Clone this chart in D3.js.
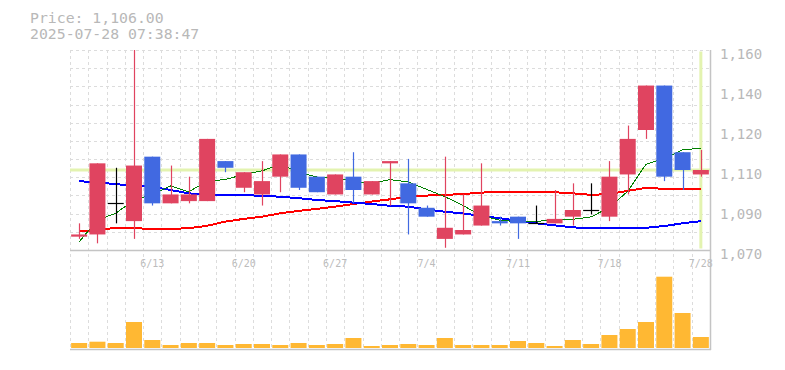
<!DOCTYPE html>
<html><head><meta charset="utf-8">
<script src="https://cdn.jsdelivr.net/npm/d3@7"></script>
<style>body{margin:0;background:#fff;}svg{display:block;}</style>
</head><body>
<svg id="chart" width="785" height="370"></svg>
<script>
// ---- data ----
const dates = ["6/9","6/10","6/11","6/12","6/13","6/16","6/17","6/18","6/19","6/20",
  "6/23","6/24","6/25","6/26","6/27","6/30","7/1","7/2","7/3","7/4",
  "7/7","7/8","7/9","7/10","7/11","7/14","7/15","7/16","7/17","7/18",
  "7/22","7/23","7/24","7/25","7/28"];
const open  = [1076,1077,1091,1083,1112,1091,1092,1092,1110,1098,1095,1103,1113,1103,1095,1103,1095,1109,1100,1089,1075,1077,1081,1083,1085,1082,1082,1085,1088,1085,1104,1124,1144,1114,1104];
const high  = [1082,1109,1107,1160,1112,1108,1103,1120,1110,1105,1110,1113,1113,1103,1104,1114,1101,1110,1111,1090,1112,1095,1109,1085,1085,1090,1097,1100,1100,1110,1126,1144,1144,1114,1115];
const low   = [1075,1073,1082,1075,1090,1091,1091,1092,1105,1096,1090,1096,1097,1096,1095,1091,1095,1090,1077,1085,1071,1077,1081,1081,1075,1082,1082,1081,1086,1083,1095,1120,1101,1097,1103];
const close = [1077,1109,1091,1108,1091,1095,1095,1120,1107,1105,1101,1113,1098,1096,1104,1097,1101,1110,1091,1085,1080,1079,1090,1082,1082,1082,1084,1088,1088,1103,1120,1144,1103,1106,1106];
const volume = [5000,6300,5000,26000,8000,3000,5000,5000,3000,4000,4000,3000,5000,3000,4000,10000,2000,3000,4000,3000,10000,3000,3000,3000,7000,5000,2000,8000,4000,13000,19000,26000,71300,35000,11000];
const ma5  = [1073.7,1083.5,1086.5,1092.5,1095.0,1098.8,1096.2,1101.0,1101.7,1104.0,1105.6,1108.5,1105.0,1102.8,1102.6,1101.0,1100.0,1101.7,1100.6,1097.3,1094.0,1090.0,1085.4,1083.4,1082.7,1082.8,1083.7,1083.8,1084.9,1089.2,1096.4,1108.6,1111.2,1115.1,1115.8];
const ma25 = [1101.0,1100.3,1099.7,1098.8,1098.5,1097.0,1095.5,1094.8,1094.8,1094.8,1094.3,1094.0,1093.3,1092.5,1092.0,1091.3,1090.7,1089.9,1089.5,1088.3,1087.2,1086.5,1085.3,1084.3,1083.2,1082.0,1081.1,1080.2,1079.8,1079.8,1079.8,1080.0,1080.8,1082.0,1083.0];
const ma75 = [1078.3,1079.0,1080.0,1079.8,1079.5,1079.5,1079.8,1080.9,1082.8,1084.0,1085.0,1086.5,1087.6,1088.5,1089.5,1090.7,1091.8,1092.8,1094.0,1094.5,1094.8,1095.2,1095.8,1096.3,1096.3,1096.3,1096.0,1095.5,1094.8,1095.2,1096.6,1098.0,1097.5,1097.3,1097.3];
const priceTicks = [1070,1088,1106,1124,1142,1160];
const priceTickLabels = ["1,070","1,090","1,110","1,120","1,140","1,160"];
const dateTickLabels = ["6/13","6/20","6/27","7/4","7/11","7/18","7/28"];
const currentPrice = 1106;
const titleLines = ["Price: 1,106.00","2025-07-28 07:38:47"];

// ---- layout ----
const L = 70, R = 710, PT = 50, PB = 250, VB = 348, VT = 276.7;
const UP = "#e04460", DOWN = "#4169e1", DOJI = "#000", VOL = "#ffb833";
const GRID = "#dcdcdc", TXT = "#b8b8b8";
const FONT = "'DejaVu Sans Mono', 'Liberation Mono', monospace";

const svg = d3.select("#chart");
const x = d3.scaleBand().domain(dates).range([L, R]).paddingInner(0.125).paddingOuter(0.0625);
const cx = d => x(d) + x.bandwidth() / 2;
const y = d3.scaleLinear().domain([1070, 1160]).range([PB, PT]);
const yV = d3.scaleLinear().domain([0, d3.max(volume)]).range([VB, VT]);

// grid
const g = svg.append("g").attr("shape-rendering", "crispEdges");
const hGrid = d3.range(12).map(i => 1070 + i * 90 / 11);
g.selectAll("line.h").data(hGrid).join("line")
  .attr("x1", L).attr("x2", R)
  .attr("y1", d => Math.round(y(d)) + 0.5).attr("y2", d => Math.round(y(d)) + 0.5)
  .attr("stroke", GRID).attr("stroke-dasharray", "3,3");
const vGrid = d3.range(dates.length + 1).map(i => L + i * x.step());
g.selectAll("line.v").data(vGrid.slice(0, -1)).join("line")
  .attr("x1", d => Math.round(d) + 0.5).attr("x2", d => Math.round(d) + 0.5)
  .attr("y1", PT).attr("y2", VB)
  .attr("stroke", GRID).attr("stroke-dasharray", "3,3");

// current price line (horizontal) and current date line (vertical)
svg.append("line").attr("x1", L).attr("x2", R)
  .attr("y1", y(currentPrice)).attr("y2", y(currentPrice))
  .attr("stroke", "#e3f3b0").attr("stroke-width", 3);
svg.append("line").attr("x1", cx(dates[dates.length - 1])).attr("x2", cx(dates[dates.length - 1]))
  .attr("y1", PT + 1.5).attr("y2", PB - 1.5)
  .attr("stroke", "#e3f3b0").attr("stroke-width", 3);

// borders
svg.append("line").attr("x1", L).attr("x2", R + 1).attr("y1", PB + 0.5).attr("y2", PB + 0.5)
  .attr("stroke", "#c4c4c4").attr("stroke-width", 1.5);
svg.append("line").attr("x1", L).attr("x2", R + 1).attr("y1", VB + 1.5).attr("y2", VB + 1.5)
  .attr("stroke", "#c4c4c4").attr("stroke-width", 1.5);
svg.append("line").attr("x1", R + 0.5).attr("x2", R + 0.5).attr("y1", PT).attr("y2", VB + 2)
  .attr("stroke", "#c4c4c4").attr("stroke-width", 1.5);

// moving averages (under candles)
const line = d3.line().x((d, i) => cx(dates[i])).y(d => y(d));
[[ma75, "#ff0000", 2], [ma25, "#0000ff", 2], [ma5, "#008000", 1]].forEach(([arr, col, w]) => {
  svg.append("path").datum(arr).attr("d", line).attr("fill", "none")
    .attr("stroke", col).attr("stroke-width", w).attr("shape-rendering", "crispEdges");
});

// candles
const idx = d3.range(dates.length);
const colorOf = i => close[i] > open[i] ? UP : (close[i] < open[i] ? DOWN : DOJI);
const cg = svg.append("g");
cg.selectAll("line.wick").data(idx).join("line")
  .attr("x1", i => Math.round(cx(dates[i])) + 0.5).attr("x2", i => Math.round(cx(dates[i])) + 0.5)
  .attr("y1", i => y(high[i])).attr("y2", i => y(low[i]))
  .attr("stroke", colorOf).attr("stroke-width", 1.2);
cg.selectAll("rect.body").data(idx.filter(i => open[i] !== close[i])).join("rect")
  .attr("x", i => x(dates[i])).attr("width", x.bandwidth())
  .attr("y", i => y(Math.max(open[i], close[i])))
  .attr("height", i => Math.max(1, y(Math.min(open[i], close[i])) - y(Math.max(open[i], close[i]))))
  .attr("fill", colorOf);
cg.selectAll("line.doji").data(idx.filter(i => open[i] === close[i])).join("line")
  .attr("x1", i => x(dates[i])).attr("x2", i => x(dates[i]) + x.bandwidth())
  .attr("y1", i => Math.round(y(open[i])) + 0.5).attr("y2", i => Math.round(y(open[i])) + 0.5)
  .attr("stroke", DOJI).attr("stroke-width", 1.2);

// volume
svg.append("g").selectAll("rect").data(idx).join("rect")
  .attr("x", i => x(dates[i])).attr("width", x.bandwidth())
  .attr("y", i => yV(volume[i])).attr("height", i => VB - yV(volume[i]))
  .attr("fill", VOL);

// y axis
const ya = svg.append("g").attr("transform", `translate(${R},0)`)
  .call(d3.axisRight(y).tickValues(priceTicks).tickFormat((d, i) => priceTickLabels[i]).tickSize(0).tickPadding(10));
ya.select(".domain").remove();
ya.selectAll("text").attr("dy", "8px").attr("fill", TXT)
  .style("font-family", FONT).style("font-size", "14px");

// x axis
const xa = svg.append("g").attr("transform", `translate(0,${PB})`)
  .call(d3.axisBottom(x).tickValues(dateTickLabels).tickSize(0).tickPadding(9.5));
xa.select(".domain").remove();
xa.selectAll("text").attr("fill", "#bcbcbc")
  .style("font-family", FONT).style("font-size", "10px");

// title
svg.selectAll("text.title").data(titleLines).join("text").attr("class", "title")
  .attr("x", 30).attr("y", (d, i) => 23 + i * 15.5)
  .attr("fill", TXT).style("font-family", FONT).style("font-size", "14.8px")
  .text(d => d);
</script>
</body></html>
